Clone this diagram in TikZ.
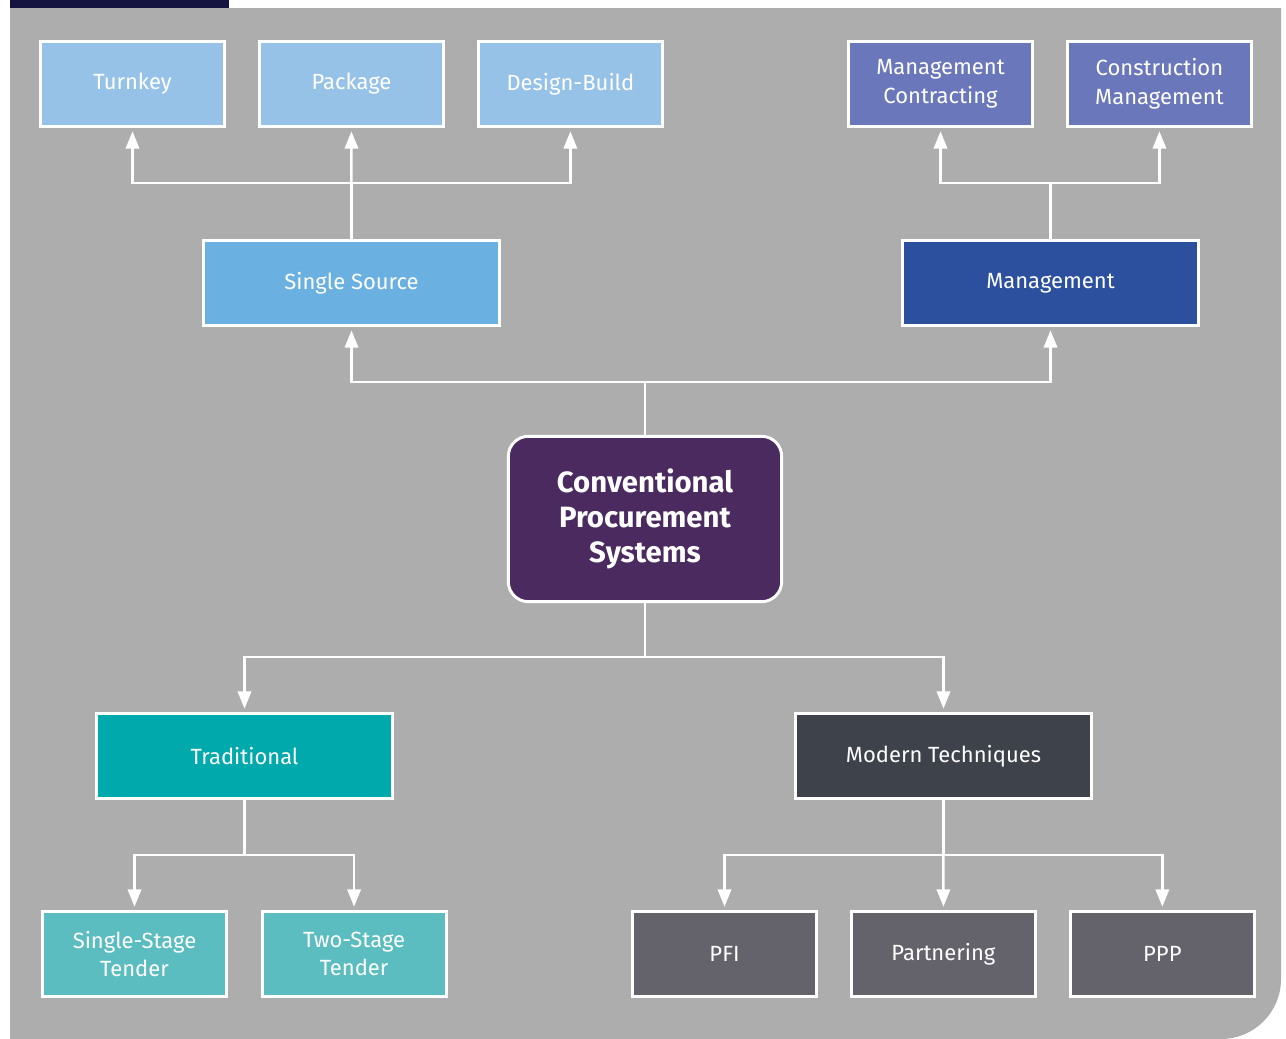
\documentclass[tikz,border=0pt]{standalone}
\usepackage{fontspec}
\setmainfont{Fira Sans}
\usepackage{tikz}
\usetikzlibrary{
  arrows.meta,
  positioning,
}
\tikzstyle{box} = [
  draw=white,
  line width=2.2pt,
  minimum width=138pt,
  minimum height=63.75pt,
  inner sep=2pt,
  align=center,
  text=white,
  font=\fontsize{16.5}{21.5}\selectfont,
]
\tikzstyle{widebox} = [box, minimum width=222pt]
\tikzstyle{arrow} = [
  -{Triangle[length=13pt, width=10pt]},
  line width=1.9pt,
  white,
  shorten >=2.5pt,
]
\definecolor{panel}{RGB}{173, 173, 173}
\definecolor{navybar}{RGB}{21, 19, 63}
\definecolor{lightblue}{RGB}{151, 194, 232}
\definecolor{midblue}{RGB}{106, 176, 224}
\definecolor{lavender}{RGB}{107, 119, 187}
\definecolor{royal}{RGB}{44, 79, 158}
\definecolor{plum}{RGB}{75, 42, 96}
\definecolor{teal}{RGB}{0, 169, 172}
\definecolor{lightteal}{RGB}{91, 189, 192}
\definecolor{slate}{RGB}{62, 66, 75}
\definecolor{ash}{RGB}{100, 99, 108}

\begin{document}
\begin{tikzpicture}[x=0.75pt, y=-0.75pt]
  \useasboundingbox (0,0) rectangle (1286,1039);
  \fill [white] (0,0) rectangle (1286,1039);
  \fill [panel] (10,8) -- (1281,8) -- (1281,979) arc (0:90:60) -- (10,1039) -- cycle;
  \fill [navybar] (10,0) rectangle (229,8);

  \node [box, fill=lightblue] (turnkey) at (132.5,84) {Turnkey};
  \node [box, fill=lightblue, right=24pt of turnkey] (package) {Package};
  \node [box, fill=lightblue, right=24pt of package] (designbuild) {Design-Build};
  \node [box, fill=lavender] (mgmtcontract) at (940.5,84) {Management\\Contracting};
  \node [box, fill=lavender, right=24pt of mgmtcontract] (constmgmt) {Construction\\Management};

  \node [widebox, fill=midblue] (singlesource) at (351.5,283) {Single Source};
  \node [widebox, fill=royal] (management) at (1050.5,283) {Management};

  \node [box, fill=plum, rounded corners=15pt, minimum width=205pt, minimum height=124pt,
         font=\fontsize{22}{26}\selectfont\bfseries] (cps) at (645,519) {Conventional\\Procurement\\Systems};

  \node [widebox, fill=teal] (traditional) at (244.5,756) {Traditional};
  \node [widebox, fill=slate] (modern) at (943.5,756) {Modern Techniques};

  \node [box, fill=lightteal] (singlestage) at (134.5,954) {Single-Stage\\Tender};
  \node [box, fill=lightteal, right=24.5pt of singlestage] (twostage) {Two-Stage\\Tender};
  \node [box, fill=ash] (pfi) at (724.5,954) {PFI};
  \node [box, fill=ash, right=24pt of pfi] (partnering) {Partnering};
  \node [box, fill=ash, right=24pt of partnering] (ppp) {PPP};

  \draw [arrow] (cps.north) -- ++(0,-53) -| (singlesource.south);
  \draw [arrow] (cps.north) -- ++(0,-53) -| (management.south);
  \draw [arrow] (singlesource.north) -- ++(0,-56) -| (turnkey.south);
  \draw [arrow] (singlesource.north) -- (package.south);
  \draw [arrow] (singlesource.north) -- ++(0,-56) -| (designbuild.south);
  \draw [arrow] (management.north) -- ++(0,-56) -| (mgmtcontract.south);
  \draw [arrow] (management.north) -- ++(0,-56) -| (constmgmt.south);

  \draw [arrow] (cps.south) -- ++(0,54) -| (traditional.north);
  \draw [arrow] (cps.south) -- ++(0,54) -| (modern.north);
  \draw [arrow] (traditional.south) -- ++(0,55) -| (singlestage.north);
  \draw [arrow] (traditional.south) -- ++(0,55) -| (twostage.north);
  \draw [arrow] (modern.south) -- ++(0,55) -| (pfi.north);
  \draw [arrow] (modern.south) -- (partnering.north);
  \draw [arrow] (modern.south) -- ++(0,55) -| (ppp.north);
\end{tikzpicture}
\end{document}
